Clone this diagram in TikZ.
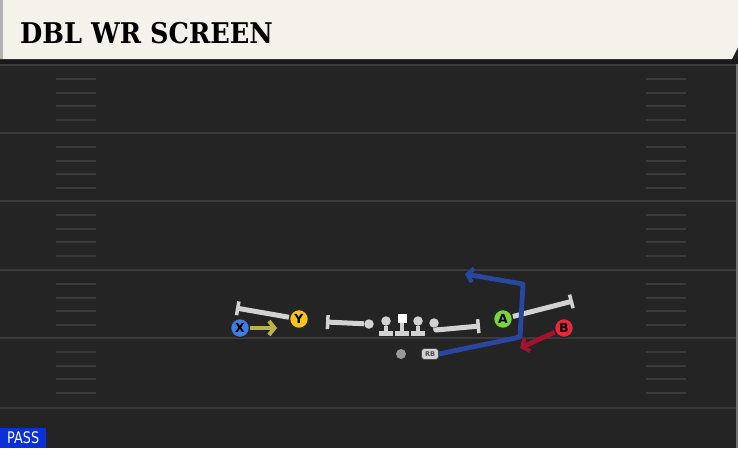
\documentclass[tikz,border=0pt]{standalone}
\usepackage{fontspec}
\usepackage{graphicx}
\setsansfont{DejaVu Sans}
\newfontfamily\titlefont{DejaVu Serif}
\usetikzlibrary{arrows.meta}

\definecolor{field}{HTML}{242424}
\definecolor{yardgray}{HTML}{3A3A3A}
\definecolor{paper}{HTML}{F4F2EB}
\definecolor{lgray}{HTML}{D2D2D2}
\definecolor{xblue}{HTML}{3D7EE0}
\definecolor{yyellow}{HTML}{F5C518}
\definecolor{agreen}{HTML}{7BD43A}
\definecolor{bred}{HTML}{E8293B}
\definecolor{olive}{HTML}{B8B34A}
\definecolor{wine}{HTML}{A3122E}
\definecolor{route}{HTML}{2747A0}
\definecolor{passblue}{HTML}{0B2FD9}

\begin{document}
\begin{tikzpicture}[x=1pt, y=-1pt,
  player/.style={circle, draw=black!85, line width=1.4pt, minimum size=19, inner sep=0,
    font=\sffamily\bfseries\fontsize{12.5}{12.5}\selectfont},
  lineman/.style={circle, fill=lgray, inner sep=0, minimum size=9.5},
  block/.style={lgray, line width=5pt, -{Bar[width=14pt, line width=3.5pt]}},
  tip/.style={-{Straight Barb[length=5.5pt, width=14pt, line width=4pt]}},
  yardline/.style={yardgray, line width=1.8pt},
  hash/.style={yardgray, line width=1.5pt}]
  \useasboundingbox (0,0) rectangle (738,448);
  \fill[field] (0,0) rectangle (738,448);

  % field
  \foreach \y in {65,133,201,270,338,408}
    \draw[yardline] (0,\y) -- (738,\y);
  \foreach \y in {65,133,201,270,338}
    \foreach \d in {14,28,41,55} {
      \draw[hash] (56,\y+\d) -- (96,\y+\d);
      \draw[hash] (646,\y+\d) -- (686,\y+\d);
    }
  \draw[black!55, line width=1.5pt] (737,60) -- (737,448);

  % header
  \fill[black!90] (0,59) rectangle (738,64);
  \fill[paper] (0,0) -- (738,0) -- (738,47) -- (732,59) -- (0,59) -- cycle;
  \fill[black!30] (0,0) rectangle (3,59);
  \node[anchor=base west, inner sep=0] (title) at (20,43)
    {\scalebox{0.9}[1]{\titlefont\bfseries\fontsize{28.5}{28.5}\selectfont DBL WR SCREEN}};

  \node[fill=passblue, text=white, anchor=south west, minimum width=46, minimum height=20, inner sep=0,
    font=\sffamily\fontsize{16}{16}\selectfont] (pass) at (0,448) {\scalebox{0.8}[1]{PASS}};

  % line
  \node[lineman] (LT) at (369,324) {};
  \node[lineman] (LG) at (386,321) {};
  \node[fill=white, inner sep=0, minimum size=9] (C) at (402,318) {};
  \node[lineman] (RG) at (418,321) {};
  \node[lineman] (RT) at (434,323) {};
  \foreach \n/\x in {LG/386, C/402, RG/418} {
    \draw[lgray, line width=4.5pt] (\n) -- (\x,333);
    \draw[lgray, line width=5pt] (\x-7,333) -- (\x+7,333);
  }
  \node[circle, fill=gray!80, inner sep=0, minimum size=10] (QB) at (401,354) {};
  \node[rounded corners=3pt, fill=lgray, draw=black!70, line width=0.8pt, minimum width=17, minimum height=11,
    inner sep=0, font=\sffamily\bfseries\fontsize{6.5}{6.5}\selectfont, text=black!70] (RB) at (430,354) {RB};

  % skill players
  \node[player, fill=xblue] (X) at (240,328) {X};
  \node[player, fill=yyellow] (Y) at (299,319) {Y};
  \node[player, fill=agreen] (A) at (503,319) {A};
  \node[player, fill=bred] (B) at (564,328) {B};

  \coordinate (yend) at (236,308);
  \coordinate (ltend) at (326,322);
  \coordinate (rtbend) at (436,330);
  \coordinate (rtend) at (480,326);
  \coordinate (aend) at (573,301);
  \coordinate (xend) at (277,328);
  \coordinate (bend) at (520,348);
  \coordinate (r1) at (520,337);
  \coordinate (r2) at (523,284);
  \coordinate (r3) at (465,274);

  % routes and blocks
  \draw[block] (Y) -- (yend);
  \draw[block] (LT) -- (ltend);
  \draw[block, line join=round] (RT) -- (rtbend) -- (rtend);
  \draw[block] (A) -- (aend);
  \draw[route, line width=4.8pt, line join=round, tip] (RB.east) -- (r1) -- (r2) -- (r3);
  \draw[olive, line width=4.8pt, tip] (X) -- (xend);
  \draw[wine, line width=4.8pt, tip] (B) -- (bend);
\end{tikzpicture}
\end{document}
